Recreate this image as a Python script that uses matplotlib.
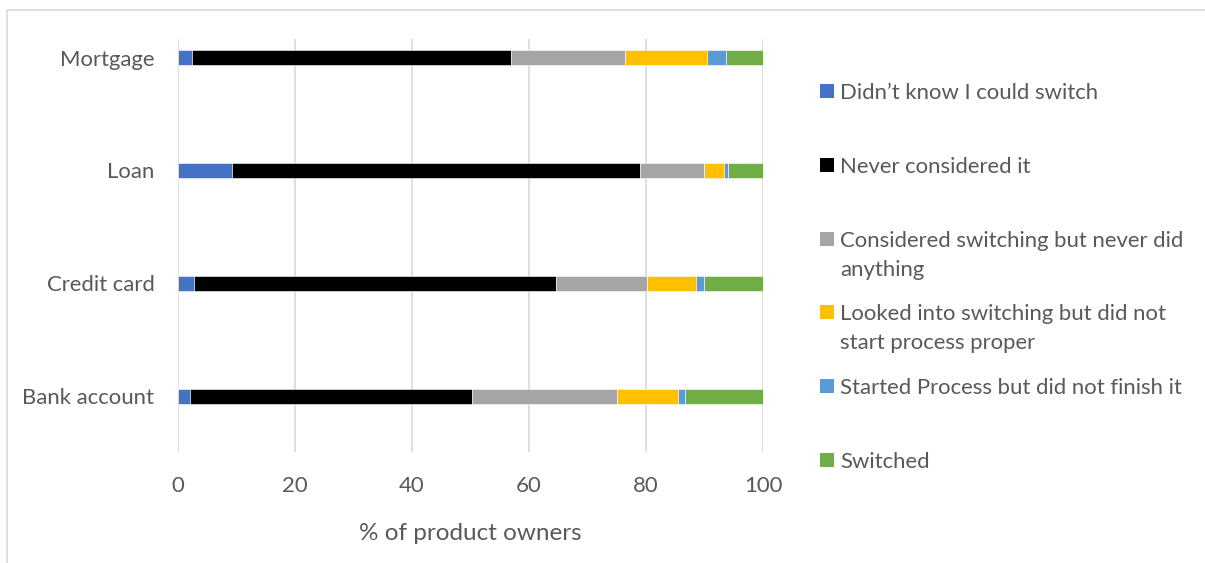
import numpy as np
import matplotlib
matplotlib.use("Agg")
from matplotlib import pyplot as plt
from matplotlib.patches import Rectangle

# products, bottom to top
products = ["Bank account", "Credit card", "Loan", "Mortgage"]

series_names = [
    "Didn\u2019t know I could switch",
    "Never considered it",
    "Considered switching but never did\nanything",
    "Looked into switching but did not\nstart process proper",
    "Started Process but did not finish it",
    "Switched",
]

# % of owners per product, same order as products
didnt_know = [2.0, 2.7, 9.3, 2.4]
never_considered = [48.3, 61.9, 69.6, 54.5]
considered = [24.7, 15.5, 11.0, 19.5]
looked_into = [10.5, 8.5, 3.5, 14.0]
started = [1.2, 1.3, 0.7, 3.2]
switched = [13.3, 10.1, 5.9, 6.4]

colors = ["#4472C4", "#000000", "#A5A5A5", "#FFC000", "#5B9BD5", "#70AD47"]
text_col = "#595959"

plt.rcParams['font.family'] = ['Lato', 'DejaVu Sans']

W, H = 1205, 563
fig = plt.figure(figsize=(W / 100, H / 100), dpi=100)
fig.patch.set_facecolor("white")

# light frame around the chart
fig.patches.append(Rectangle((7 / W, -0.1), 1.2, 1 - 9.5 / H + 0.1,
                             transform=fig.transFigure, fill=False,
                             edgecolor="#D9D9D9", linewidth=1.2))

ax = fig.add_axes([178 / W, (H - 452) / H, 585 / W, 413 / H])

data = [didnt_know, never_considered, considered, looked_into, started, switched]
y = np.arange(len(products))
left = np.zeros(len(products))
for vals, col, name in zip(data, colors, series_names):
    ax.barh(y, vals, left=left, height=0.133, color=col, edgecolor="white",
            linewidth=0.4, label=name, zorder=3)
    left += np.array(vals)

ax.set_xlim(0, 100)
ax.set_ylim(-0.496, 3.164)
ax.set_xticks(np.arange(0, 101, 20))
ax.set_yticks(y)
ax.set_yticklabels(products)
ax.grid(axis="x", color="#D9D9D9", linewidth=1.2, zorder=0)
for s in ax.spines.values():
    s.set_visible(False)
ax.tick_params(axis="both", length=0, labelsize=15.9, labelcolor=text_col)
ax.tick_params(axis="y", pad=17)
ax.tick_params(axis="x", pad=17)

fig.text(470 / W, 1 - 540 / H, "% of product owners", ha="center", va="baseline",
         fontsize=17.5, color=text_col)

# legend entries, one per series, stacked down the right side
for i, (name, col) in enumerate(zip(series_names, colors)):
    yc = 91 + 73.8 * i
    fig.patches.append(Rectangle((820 / W, 1 - (yc + 7) / H), 14 / W, 14 / H,
                                 transform=fig.transFigure, facecolor=col,
                                 edgecolor="none"))
    for k, line in enumerate(name.split("\n")):
        fig.text(840 / W, 1 - (yc + 8 + 29 * k) / H, line, ha="left",
                 va="baseline", fontsize=15.9, color=text_col)

fig.savefig("out.png", dpi=100)
